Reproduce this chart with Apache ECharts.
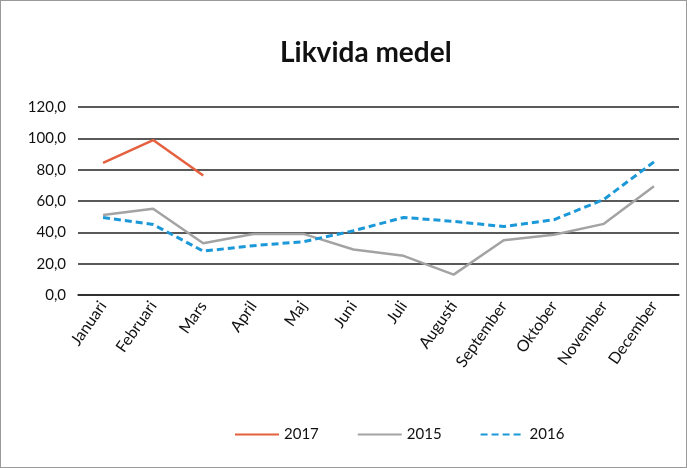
<!DOCTYPE html>
<html>
<head>
<meta charset="utf-8">
<script src="https://cdn.jsdelivr.net/npm/echarts@6/dist/echarts.min.js"></script>
<style>
  html, body { margin: 0; padding: 0; background: #fff; }
  #chart { width: 687px; height: 468px; box-sizing: border-box; border: 1px solid #9a9a9a; }
</style>
</head>
<body>
<div id="chart"></div>
<script>
// månader
var months = ['Januari', 'Februari', 'Mars', 'April', 'Maj', 'Juni', 'Juli',
    'Augusti', 'September', 'Oktober', 'November', 'December'];

var data2017 = [84.4, 98.9, 76.3];
var data2015 = [51, 55, 33, 39, 39, 29, 25, 13, 35, 38.5, 45.4, 69.4];
var data2016 = [49.5, 45, 28, 31.5, 34, 41, 49.5, 47, 43.7, 48, 61, 85];

var chart = echarts.init(document.getElementById('chart'));

var option = {
    animation: false,
    title: {
        text: 'Likvida medel',
        left: 274,
        top: 33,
        textStyle: {
            fontFamily: 'Lato, sans-serif',
            fontSize: 28,
            fontWeight: 'bold',
            color: '#111'
        }
    },
    legend: {
        bottom: 20,
        left: 228,
        itemWidth: 44,
        itemHeight: 12,
        itemGap: 38,
        data: ['2017', '2015', '2016'],
        itemStyle: { color: 'transparent', borderColor: 'transparent', borderWidth: 0 },
        textStyle: { fontSize: 15, color: '#111', fontFamily: 'Lato, sans-serif' }
    },
    grid: { left: 77, right: 7, top: 106, bottom: 172 },
    xAxis: {
        type: 'category',
        data: months,
        boundaryGap: true,
        axisLine: { show: true, lineStyle: { color: '#222', width: 1.5 } },
        axisTick: { show: false },
        axisLabel: {
            rotate: 55,
            fontSize: 16,
            color: '#111',
            interval: 0,
            margin: 8,
            fontFamily: 'Lato, sans-serif'
        }
    },
    yAxis: {
        type: 'value',
        min: 0,
        max: 120,
        interval: 20,
        axisLine: { show: false },
        axisTick: { show: false },
        axisLabel: {
            fontSize: 15,
            color: '#111',
            margin: 12,
            fontFamily: 'Lato, sans-serif',
            formatter: function (v) { return v.toFixed(1).replace('.', ','); }
        },
        splitLine: { lineStyle: { color: '#222', width: 1.5 } }
    },
    series: [
        {
            name: '2017',
            type: 'line',
            data: data2017,
            symbol: 'none',
            lineStyle: { color: '#e5603f', width: 2.5 },
            itemStyle: { color: '#e5603f' }
        },
        {
            name: '2015',
            type: 'line',
            data: data2015,
            symbol: 'none',
            lineStyle: { color: '#a3a3a3', width: 2.5 },
            itemStyle: { color: '#a3a3a3' }
        },
        {
            name: '2016',
            type: 'line',
            data: data2016,
            symbol: 'none',
            lineStyle: { color: '#1b98d8', width: 3, type: [7, 4] },
            itemStyle: { color: '#1b98d8' }
        }
    ]
};

chart.setOption(option);
</script>
</body>
</html>
